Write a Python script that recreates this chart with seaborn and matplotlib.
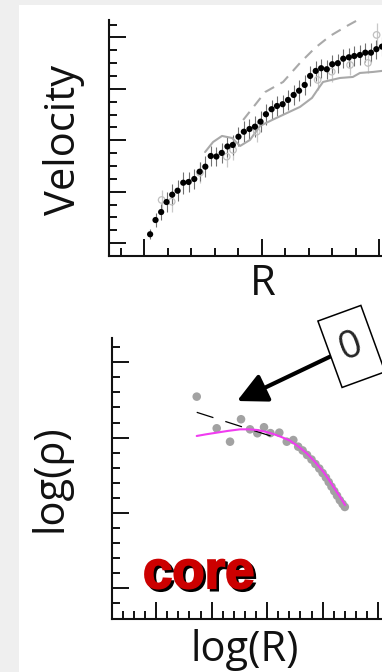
import numpy as np
import matplotlib
matplotlib.use("Agg")
import matplotlib.pyplot as plt
import matplotlib.patheffects as pe
from matplotlib.patches import Rectangle
from matplotlib.path import Path
from matplotlib.ticker import MultipleLocator, FixedLocator
from matplotlib import font_manager
import seaborn as sns

# ---------------- rotation curve (top panel) ----------------
radius = [2.25, 2.48, 2.72, 2.95, 3.19, 3.42, 3.66, 3.89, 4.13, 4.36, 4.60,
          4.83, 5.07, 5.30, 5.54, 5.77, 6.01, 6.24, 6.48, 6.71, 6.95,
          7.18, 7.42, 7.65, 7.89, 8.12, 8.36, 8.59, 8.83, 9.06, 9.30,
          9.53, 9.77, 10.00, 10.24, 10.47, 10.71, 10.94, 11.18, 11.41, 11.65,
          11.88, 12.12]
velocity = [1.69, 2.80, 3.42, 4.20, 4.77, 5.08, 5.70, 5.76, 5.99, 6.56, 6.95,
            7.78, 7.74, 8.02, 8.52, 8.64, 9.28, 9.67, 9.88, 10.06, 10.45,
            11.03, 11.42, 11.67, 11.81, 12.14, 12.53, 12.86, 13.31, 14.01, 14.40,
            14.61, 14.53, 14.92, 15.00, 15.35, 15.46, 15.56, 15.64, 15.82, 15.82,
            16.09, 16.29]
velocity_err = [0.40, 0.55, 0.65, 0.75, 0.80, 0.80, 0.85, 0.80, 0.75, 0.75, 0.80,
                0.80, 0.75, 0.75, 0.80, 0.80, 0.75, 0.80, 0.75, 0.80, 0.80,
                0.80, 0.75, 0.80, 0.75, 0.80, 0.80, 0.80, 0.80, 0.80, 0.75,
                0.75, 0.75, 0.70, 0.75, 0.75, 0.75, 0.75, 0.75, 0.75, 0.75,
                0.75, 0.75]

# second (faint) sample of the same galaxy
radius_alt = [2.74, 3.17, 4.37, 5.51, 5.78, 6.79, 9.38, 9.98, 10.76, 11.52, 11.89]
velocity_alt = [4.36, 4.23, 6.48, 7.73, 8.25, 9.67, 13.70, 14.34, 14.86, 15.02, 17.20]
velocity_alt_err = [0.8, 0.8, 0.8, 0.8, 0.8, 0.8, 0.8, 0.8, 0.8, 0.8, 0.9]

# model rotation curves
disk_r = [4.59, 4.93, 5.31, 5.74, 6.08, 6.50, 6.93, 7.44, 8.08, 8.63, 9.14,
          9.40, 9.61, 10.33, 10.88, 11.18, 11.74, 12.12]
disk_v = [8.09, 8.87, 9.34, 9.18, 8.56, 9.03, 10.12, 10.58, 11.13, 11.60, 12.30,
          13.00, 13.54, 13.85, 13.93, 14.24, 14.32, 14.40]
cusp_r = [6.21, 7.15, 7.91, 8.63, 9.27, 9.91, 10.63, 11.10, 11.40]
cusp_v = [10.58, 12.76, 13.54, 15.02, 16.19, 17.12, 17.90, 18.37, 18.60]

# ---------------- density profile (bottom panel) ----------------
log_r = [7.66, 9.46, 10.66, 11.65, 12.46, 13.12, 13.72, 14.30, 15.10, 15.77,
         16.36, 16.80, 17.20, 17.60, 18.00, 18.35, 18.70, 19.00, 19.30, 19.55,
         19.80, 20.05, 20.30, 20.55, 20.80, 21.00]
log_rho = [14.72, 12.62, 11.73, 13.22, 12.55, 12.29, 12.69, 12.30, 12.33, 11.73,
           11.84, 11.40, 11.15, 10.85, 10.55, 10.25, 9.95, 9.65, 9.35, 9.05,
           8.75, 8.45, 8.15, 7.85, 7.60, 7.40]
core_fit_r = [7.66, 8.50, 9.46, 10.50, 11.56, 12.30, 13.06, 13.80, 14.56, 15.30,
              16.06, 16.80, 17.57, 18.30, 19.06, 19.50, 19.96, 20.50, 21.02]
core_fit_rho = [12.11, 12.22, 12.33, 12.45, 12.55, 12.55, 12.51, 12.40, 12.24, 12.04,
                11.80, 11.42, 10.96, 10.40, 9.74, 9.28, 8.75, 8.15, 7.53]
inner_slope_r = [7.66, 15.00]
inner_slope_rho = [13.68, 11.95]
inner_slope_label = "0"

# ---------------- style ----------------
sns.set_style("white")
plt.rcParams["font.family"] = ["Open Sans", "DejaVu Sans"]
label_font = font_manager.FontProperties(family=["Open Sans", "DejaVu Sans"], size=30)

fig = plt.figure(figsize=(3.82, 6.72), dpi=100, facecolor="#efefef")
fig.patches.append(Rectangle((19 / 382, 0), 1, (672 - 5) / 672,
                             transform=fig.transFigure, facecolor="white",
                             edgecolor="none", zorder=-10))

ax1 = fig.add_axes([109 / 382, 1 - 256 / 672, 1 - 109 / 382, (256 - 19.5) / 672])
ax2 = fig.add_axes([111.7 / 382, 1 - 618.5 / 672, 1 - 111.7 / 382, (618.5 - 338) / 672])

for ax in (ax1, ax2):
    ax.set_facecolor("none")
    for s in ("top", "right"):
        ax.spines[s].set_visible(False)
    for s in ("left", "bottom"):
        ax.spines[s].set_linewidth(1.5)
        ax.spines[s].set_color("#111111")
    ax.tick_params(which="both", direction="in", color="#111111", width=1.4,
                   labelleft=False, labelbottom=False, left=True, bottom=True)
    ax.tick_params(which="major", length=12)
    ax.tick_params(which="minor", length=5.8)

# top panel
ax1.set_xlim(0.5, 12.12)
ax1.set_ylim(0, 18.4)
ax1.xaxis.set_major_locator(FixedLocator([2, 7, 12]))
ax1.xaxis.set_minor_locator(MultipleLocator(1))
ax1.yaxis.set_major_locator(FixedLocator([1, 5, 9, 13, 17]))
ax1.yaxis.set_minor_locator(MultipleLocator(1))

v = np.array(velocity)
e = np.array(velocity_err)
va = np.array(velocity_alt)
ea = np.array(velocity_alt_err)
ax1.vlines(radius_alt, va - ea, va + ea, color="#c8c8c8", lw=0.9, zorder=1)
ax1.vlines(radius, v - e, v + e, color="#707070", lw=0.8, zorder=2)
sns.lineplot(x=disk_r, y=disk_v, sort=False, estimator=None, color="#a9a9a9",
             lw=1.5, ax=ax1, zorder=3)
sns.lineplot(x=cusp_r, y=cusp_v, sort=False, estimator=None, color="#a9a9a9",
             lw=1.5, ax=ax1, zorder=3, linestyle=(0, (5, 3.5)))
sns.scatterplot(x=radius_alt, y=velocity_alt, s=22, facecolor="none",
                edgecolor="#c0c0c0", linewidth=0.9, ax=ax1, zorder=3)
sns.scatterplot(x=radius, y=velocity, s=20, color="black", edgecolor="none",
                ax=ax1, zorder=5, clip_on=False)

ax1.text(0.564, -0.12, "R", transform=ax1.transAxes, ha="center", va="center",
         fontproperties=label_font, color="#111111")
ax1.text(-0.165, 0.49, "Velocity", transform=ax1.transAxes, ha="center", va="center",
         rotation=90, fontproperties=label_font, color="#111111")

# bottom panel
ax2.set_xlim(0, 24.35)
ax2.set_ylim(0, 18.61)
ax2.xaxis.set_major_locator(FixedLocator([4, 9, 14, 19, 24]))
ax2.xaxis.set_minor_locator(MultipleLocator(1))
ax2.yaxis.set_major_locator(FixedLocator([2, 7, 12, 17]))
ax2.yaxis.set_minor_locator(MultipleLocator(1))

sns.scatterplot(x=log_r, y=log_rho, s=38, color="#a2a2a2", edgecolor="none",
                ax=ax2, zorder=2)
sns.lineplot(x=inner_slope_r, y=inner_slope_rho, color="black", lw=0.9,
             linestyle=(0, (14, 10)), ax=ax2, zorder=3)
sns.lineplot(x=core_fit_r, y=core_fit_rho, sort=False, estimator=None,
             color="#f03cf0", lw=1.5, ax=ax2, zorder=4)


def tall_box(x0, y0, width, height, mutation_size):
    """Rectangle with more padding above/below than left/right."""
    px = 0.30 * mutation_size
    py = 0.42 * mutation_size
    x0, y0 = x0 - px, y0 - py
    x1, y1 = x0 + width + 2 * px, y0 + height + 2 * py
    return Path([(x0, y0), (x1, y0), (x1, y1), (x0, y1), (x0, y0)],
                closed=True)


ax2.annotate(inner_slope_label, xy=(11.29, 14.43), xytext=(21.6, 18.05),
             ha="center", va="center", rotation=20, fontsize=28,
             bbox=dict(boxstyle=tall_box, fc="white", ec="black", lw=1.1),
             arrowprops=dict(arrowstyle="-|>,head_length=0.9,head_width=0.45",
                             mutation_scale=20, lw=3, color="black",
                             shrinkA=0, shrinkB=0),
             annotation_clip=False, zorder=6)

ax2.text(2.82, 2.02, "core", color="#cc0000", fontsize=38, fontweight="bold",
         family=["Liberation Sans", "DejaVu Sans"], ha="left", va="baseline",
         path_effects=[
             pe.PathPatchEffect(offset=(1.8, -1.8), facecolor="black",
                                edgecolor="black", linewidth=1.4),
             pe.PathPatchEffect(facecolor="#cc0000", edgecolor="#cc0000",
                                linewidth=1.4)])

ax2.text(0.493, -0.112, "log(R)", transform=ax2.transAxes, ha="center", va="center",
         fontproperties=label_font, color="#111111")
ax2.text(-0.228, 0.5, "log(ρ)", transform=ax2.transAxes, ha="center", va="center",
         rotation=90, fontproperties=label_font, color="#111111")

fig.savefig("out.png", dpi=100, facecolor=fig.get_facecolor())
